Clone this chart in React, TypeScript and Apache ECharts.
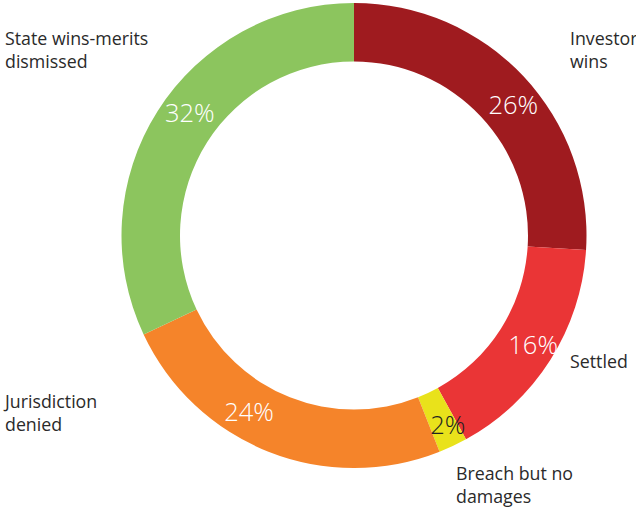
import React, { useEffect, useRef } from "react";
import * as echarts from "echarts";

const categories = [
  "Investor wins",
  "Settled",
  "Breach but no damages",
  "Jurisdiction denied",
  "State wins-merits dismissed",
];
const values = [26, 16, 2, 24, 32];
const colors = ["#9f1b1f", "#ea3536", "#e9e21b", "#f5842a", "#8cc55e"];
const percentLabelColors = ["#ffffff", "#ffffff", "#222222", "#ffffff", "#ffffff"];

// label nudges (layout only)
const percentLabelShift = [
  [9, 10],
  [5, -2],
  [6, 2],
  [-29, -16],
  [10, -13],
];

// outer category label text lines and positions (layout only)
const categoryLabelLines = [
  ["Investor", "wins"],
  ["Settled"],
  ["Breach but no", "damages"],
  ["Jurisdiction", "denied"],
  ["State wins-merits", "dismissed"],
];
const categoryLabelPos = [
  [570, 38],
  [570, 361],
  [456, 473],
  [5, 401],
  [5, 38],
];

const FONT = "'Open Sans', 'Noto Sans', sans-serif";

export default function App() {
  const ref = useRef<HTMLDivElement>(null);
  useEffect(() => {
    document.body.style.margin = "0";
    if (!ref.current) return;
    const chart = echarts.init(ref.current, undefined, { renderer: "svg" });
    const graphics: any[] = [];
    categoryLabelLines.forEach((lines, i) => {
      graphics.push({
        type: "text",
        left: categoryLabelPos[i][0],
        top: categoryLabelPos[i][1] - 12,
        style: {
          text: lines.join("\n"),
          fill: "#2a2a2a",
          font: `400 17.8px ${FONT}`,
          lineHeight: 23,
        },
      });
    });
    chart.setOption({
      animation: false,
      backgroundColor: "#ffffff",
      graphic: graphics,
      series: [
        {
          type: "pie",
          center: [354, 235.5],
          radius: [174, 232.5],
          startAngle: 90,
          clockwise: true,
          avoidLabelOverlap: false,
          itemStyle: { borderWidth: 0 },
          emphasis: { disabled: true },
          label: {
            show: true,
            position: "inside",
            formatter: "{c}%",
            fontFamily: FONT,
            fontWeight: 300,
            fontSize: 25.5,
          },
          labelLine: { show: false },
          labelLayout: (p: any) => ({
            dx: percentLabelShift[p.dataIndex][0],
            dy: percentLabelShift[p.dataIndex][1],
          }),
          data: categories.map((name, i) => ({
            name,
            value: values[i],
            itemStyle: { color: colors[i] },
            label: { color: percentLabelColors[i] },
          })),
        },
      ],
    });
    return () => chart.dispose();
  }, []);
  return (
    <div
      ref={ref}
      style={{ position: "absolute", left: 0, top: 0, width: 636, height: 508 }}
    />
  );
}
